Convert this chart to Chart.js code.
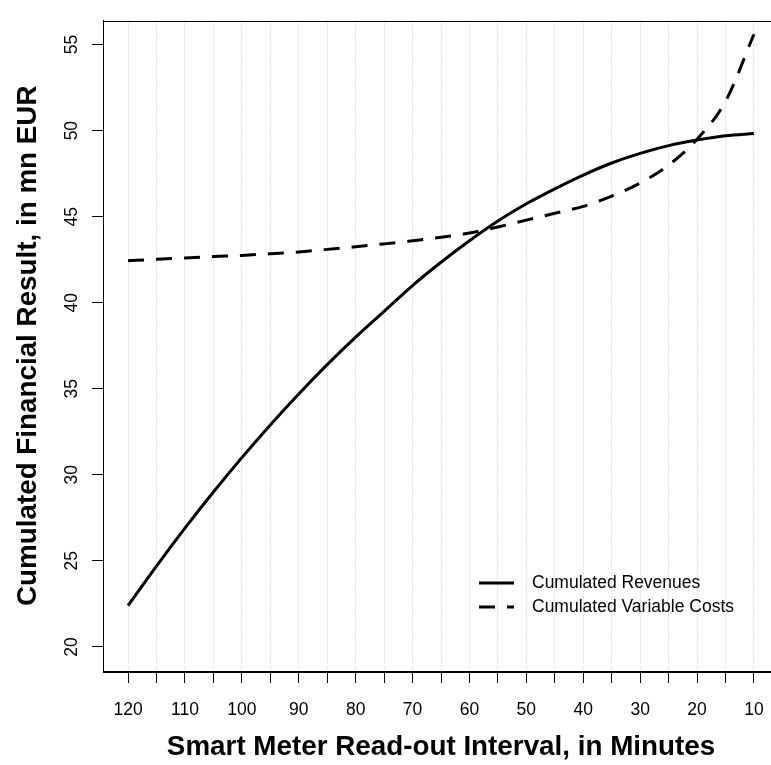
<!DOCTYPE html>
<html><head><meta charset="utf-8">
<script src="https://cdn.jsdelivr.net/npm/chart.js@4.4.1/dist/chart.umd.min.js"></script>
<style>html,body{margin:0;padding:0;overflow:hidden;background:#fff;width:771px;height:765px}</style>
</head><body>
<canvas id="c" width="800" height="765" style="display:block;width:800px;height:765px"></canvas>
<script>
const minutes  = [120,115,110,105,100,95,90,85,80,75,70,65,60,55,50,45,40,35,30,25,20,15,10];
const revenues = [22.4,24.7,26.9,29.0,31.0,32.9,34.7,36.4,38.0,39.5,41.0,42.35,43.6,44.75,45.75,46.62,47.42,48.12,48.68,49.13,49.45,49.7,49.83];
const costs    = [42.44,42.52,42.6,42.68,42.75,42.85,42.95,43.1,43.25,43.42,43.6,43.8,44.05,44.4,44.8,45.2,45.6,46.2,46.95,48.0,49.5,51.7,55.6];
const xTicks   = [120,115,110,105,100,95,90,85,80,75,70,65,60,55,50,45,40,35,30,25,20,15,10];
const yTicks   = [20,25,30,35,40,45,50,55];
const seriesLabels = ['Cumulated Revenues','Cumulated Variable Costs'];
const xTitle = 'Smart Meter Read-out Interval, in Minutes';
const yTitle = 'Cumulated Financial Result, in mn EUR';

const FONT = '"Liberation Sans", Arial, Helvetica, sans-serif';

const boxPlugin = {
  id: 'box',
  afterDraw(chart) {
    const {ctx, chartArea: a} = chart;
    ctx.save();
    ctx.strokeStyle = '#000';
    ctx.lineWidth = 1;
    ctx.setLineDash([]);
    ctx.strokeRect(Math.round(a.left) + 0.5, Math.round(a.top) + 0.5, Math.round(a.right - a.left), Math.round(a.bottom - a.top));
    ctx.restore();
  }
};

const legendPlugin = {
  id: 'rlegend',
  afterDatasetsDraw(chart) {
    const ctx = chart.ctx;
    chart.data.datasets.forEach((ds, i) => {
      const y = 583 + i * 24;
      ctx.save();
      ctx.strokeStyle = ds.borderColor;
      ctx.lineWidth = ds.borderWidth;
      ctx.lineCap = 'butt';
      ctx.setLineDash(ds.borderDash || []);
      ctx.beginPath(); ctx.moveTo(479, y); ctx.lineTo(514, y); ctx.stroke();
      ctx.setLineDash([]);
      ctx.fillStyle = '#000';
      ctx.font = '17.5px ' + FONT;
      ctx.textBaseline = 'middle';
      ctx.textAlign = 'left';
      ctx.fillText(ds.label, 532, y);
      ctx.restore();
    });
  }
};

new Chart(document.getElementById('c'), {
  type: 'line',
  data: {
    datasets: [
      {
        label: seriesLabels[0],
        data: minutes.map((m, i) => ({x: m, y: revenues[i]})),
        borderColor: '#000', borderWidth: 3, pointRadius: 0,
        cubicInterpolationMode: 'monotone', fill: false
      },
      {
        label: seriesLabels[1],
        data: minutes.map((m, i) => ({x: m, y: costs[i]})),
        borderColor: '#000', borderWidth: 3, pointRadius: 0, borderDash: [16, 12],
        borderCapStyle: 'butt',
        cubicInterpolationMode: 'monotone', fill: false
      }
    ]
  },
  options: {
    responsive: false,
    animation: false,
    devicePixelRatio: 1,
    layout: {padding: {top: 7, right: 21, bottom: 0, left: 0}},
    plugins: {legend: {display: false}, tooltip: {enabled: false}},
    scales: {
      x: {
        type: 'linear', reverse: true, min: 5.6, max: 124.4,
        afterBuildTicks: s => { s.ticks = xTicks.map(v => ({value: v})); },
        afterFit: s => { s.height = 94; },
        ticks: {
          autoSkip: false, maxRotation: 0, minRotation: 0, padding: 17,
          color: '#000', font: {family: FONT, size: 17.5},
          callback: v => (v % 10 === 0 ? String(v) : '')
        },
        grid: {
          color: '#c4c4c4', lineWidth: 1, drawOnChartArea: true, drawTicks: true,
          tickLength: 12, tickColor: '#000', tickWidth: 1, tickBorderDash: [],
          borderDash: [1, 2]
        },
        border: {display: true, color: '#000', width: 1, dash: [1, 2]},
        title: {
          display: true, text: xTitle, color: '#000',
          font: {family: FONT, size: 27.8, weight: 'bold', lineHeight: 1.2},
          padding: {top: 0, bottom: 1}
        }
      },
      y: {
        type: 'linear', min: 18.6, max: 56.4,
        afterBuildTicks: s => { s.ticks = yTicks.map(v => ({value: v})); },
        afterFit: s => { s.width = 103; },
        ticks: {
          minRotation: 90, maxRotation: 90, crossAlign: 'center', padding: 10,
          color: '#000', font: {family: FONT, size: 17.5}
        },
        grid: {
          drawOnChartArea: false, drawTicks: true, tickLength: 11,
          tickColor: '#000', tickWidth: 1, color: '#000'
        },
        border: {display: true, color: '#000', width: 1},
        title: {
          display: true, text: yTitle, color: '#000',
          font: {family: FONT, size: 27.8, weight: 'bold', lineHeight: 1.2},
          padding: {top: 12, bottom: 0}
        }
      }
    }
  },
  plugins: [boxPlugin, legendPlugin]
});
</script>
</body></html>
